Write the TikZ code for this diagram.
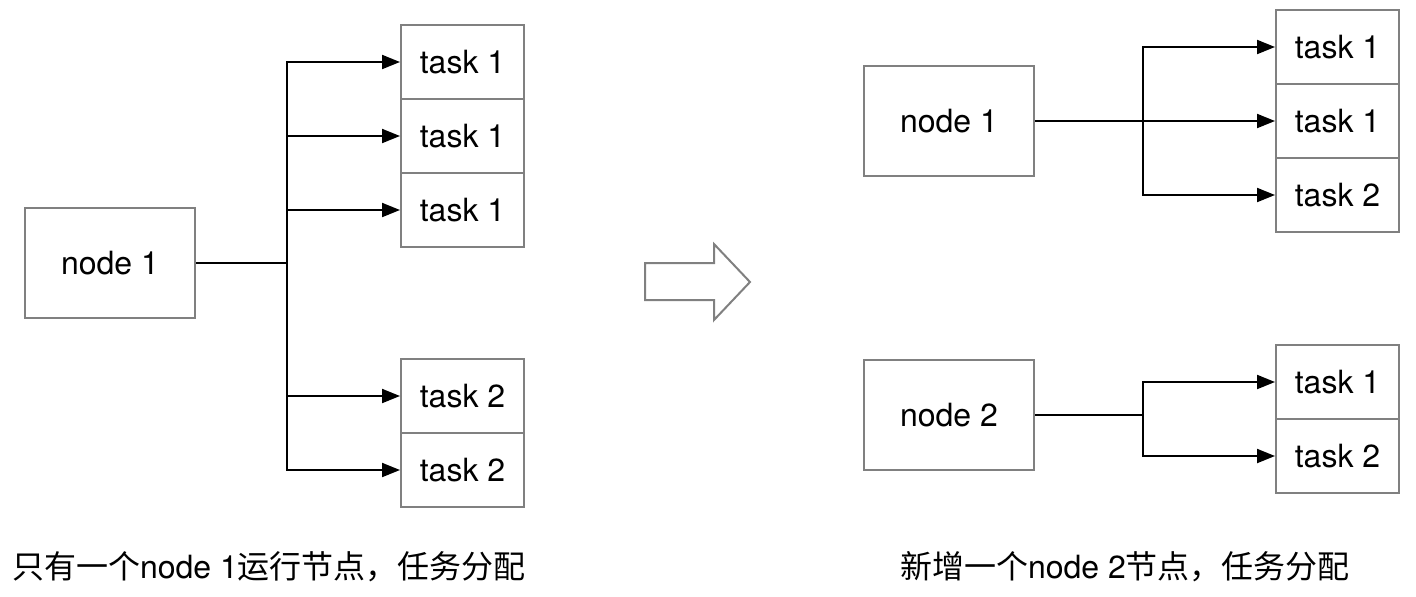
\documentclass[tikz,border=0pt]{standalone}
\usepackage{fontspec}
\setmainfont{TeX Gyre Heros}
\newfontfamily\cjk{Noto Sans CJK SC}
\usetikzlibrary{arrows.meta}
\tikzset{
  box/.style={draw=black!50, line width=1pt, fill=white, inner sep=0pt, font=\fontsize{16pt}{19pt}\selectfont},
  nodebox/.style={box, minimum width=85pt, minimum height=55pt},
  taskbox/.style={box, minimum width=61.5pt, minimum height=37pt},
  conn/.style={draw=black, line width=1pt},
  arr/.style={conn, -{Triangle[length=9pt,width=7pt]}},
  caption/.style={inner sep=0pt, font=\fontsize{16pt}{19pt}\selectfont},
  bigarrow/.style={draw=black!50, line width=1pt, fill=white, line join=miter}
}
\begin{document}
\begin{tikzpicture}[x=0.5pt, y=-0.5pt]
\useasboundingbox (0,0) rectangle (1416,596);
% left
\node[nodebox] (n1) at (110,263) {node 1};
\node[taskbox] (la) at (462.5,62) {task 1};
\node[taskbox] (lb) at (462.5,136) {task 1};
\node[taskbox] (lc) at (462.5,210) {task 1};
\node[taskbox] (ld) at (462.5,396) {task 2};
\node[taskbox] (le) at (462.5,470) {task 2};
\coordinate (lbr) at (287,263);
\draw[conn] (n1.east) -- (lbr);
\foreach \t in {la,lb,lc,ld,le} \draw[arr] (lbr) |- (\t.west);
% big arrow
\draw[bigarrow] (645,263) -- (714,263) -- (714,244) -- (750,282) -- (714,320) -- (714,300) -- (645,300) -- cycle;
% right
\node[nodebox] (r1) at (949,121) {node 1};
\node[taskbox] (ra) at (1337.5,47) {task 1};
\node[taskbox] (rb) at (1337.5,121) {task 1};
\node[taskbox] (rc) at (1337.5,195) {task 2};
\coordinate (rbr1) at (1143,121);
\draw[conn] (r1.east) -- (rbr1);
\foreach \t in {ra,rb,rc} \draw[arr] (rbr1) |- (\t.west);
\node[nodebox] (r2) at (949,415) {node 2};
\node[taskbox] (rd) at (1337.5,382) {task 1};
\node[taskbox] (re) at (1337.5,456) {task 2};
\coordinate (rbr2) at (1143,415);
\draw[conn] (r2.east) -- (rbr2);
\foreach \t in {rd,re} \draw[arr] (rbr2) |- (\t.west);
% captions
\node[caption] (capl) at (269,567) {{\cjk 只有一个}node 1{\cjk 运行节点，任务分配}};
\node[caption] (capr) at (1125,567) {{\cjk 新增一个}node 2{\cjk 节点，任务分配}};
\end{tikzpicture}
\end{document}
